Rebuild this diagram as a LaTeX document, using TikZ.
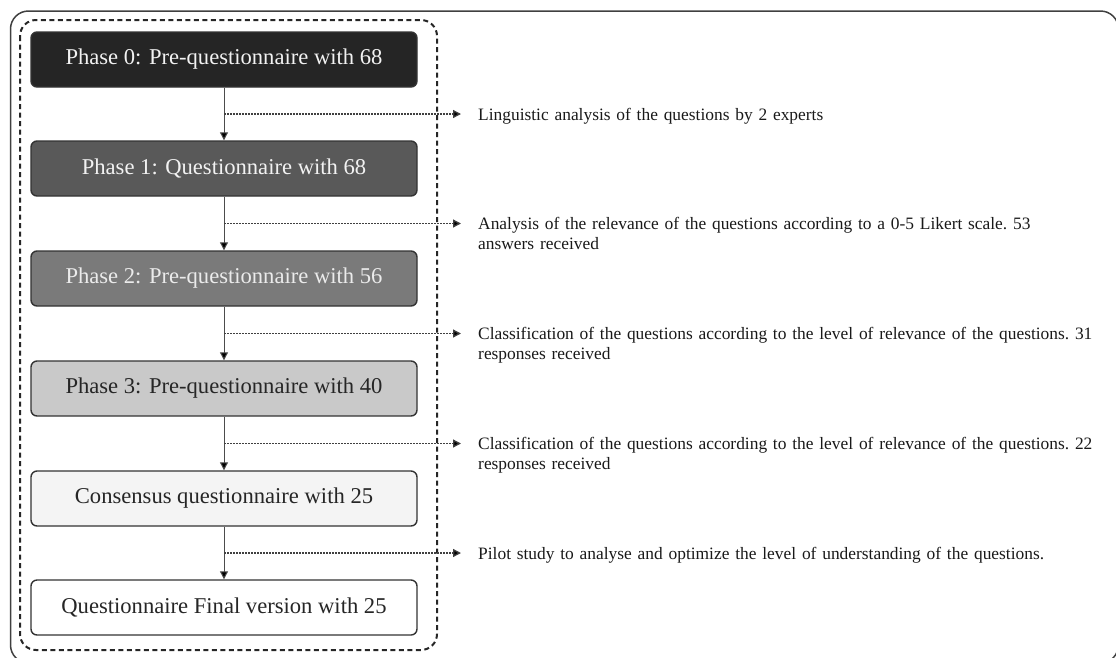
\documentclass[tikz,border=0pt]{standalone}
\usepackage{fontspec}
\setmainfont{Liberation Serif}
\usetikzlibrary{arrows.meta,calc}
\definecolor{fz}{HTML}{252525}
\definecolor{fo}{HTML}{595959}
\definecolor{ft}{HTML}{7A7A7A}
\definecolor{fh}{HTML}{C9C9C9}
\definecolor{fc}{HTML}{F4F4F4}
\definecolor{edge}{HTML}{333333}
\tikzset{
  phasebox/.style={draw=edge, line width=1.4pt, rounded corners=6pt,
    minimum width=386pt, minimum height=55pt, inner sep=0pt,
    font=\fontsize{22.6}{25}\selectfont},
  flowarrow/.style={draw=black!70, line width=1pt, -{Triangle[width=8pt,length=8pt,fill=black]}},
  sidearrow/.style={draw=black!75, line width=1.3pt, dash pattern=on 1.5pt off 1.5pt,
    -{Triangle[width=8pt,length=8pt,fill=black]}},
  note/.style={anchor=base west, align=left, inner sep=0pt, text width=636pt,
    font=\fontsize{17.4}{20}\selectfont\frenchspacing, text=black!90}
}
\begin{document}
\begin{tikzpicture}[x=1pt,y=-1pt]
\useasboundingbox (0,0) rectangle (1116,657);
% outer frame
\draw[black!75, line width=1.5pt, rounded corners=18pt] (10.5,11) rectangle (1118.5,663);
% dashed group
\draw[black!85, line width=2pt, dash pattern=on 5pt off 3.5pt, rounded corners=16pt] (20,20) rectangle (437,650);
% phases
\node[phasebox, fill=fz, text=white!95!black] (p0) at (224,59.5) {Phase 0: Pre-questionnaire with 68};
\node[phasebox, fill=fo, text=white!95!black] (p1) at (224,168.5) {Phase 1: Questionnaire with 68};
\node[phasebox, fill=ft, text=white!92!black] (p2) at (224,278.5) {Phase 2: Pre-questionnaire with 56};
\node[phasebox, fill=fh, text=black!85] (p3) at (224,388.5) {Phase 3: Pre-questionnaire with 40};
\node[phasebox, fill=fc, text=black!85] (p4) at (224,498.5) {Consensus questionnaire with 25};
\node[phasebox, fill=white, text=black!85] (p5) at (224,607.5) {Questionnaire Final version with 25};
% vertical arrows
\foreach \a/\b in {p0/p1,p1/p2,p2/p3,p3/p4,p4/p5}{
  \draw[flowarrow] (\a.south) -- (\b.north);
}
% branch points and notes
\foreach \a/\b/\i in {p0/p1/0,p1/p2/1,p2/p3/2,p3/p4/3,p4/p5/4}{
  \coordinate (s\i) at ($(\a.south)!0.5!(\b.north)$);
  \coordinate (e\i) at ($(s\i)+(237,0)$);
}
\node[note] (n0) at ($(s0)+(254,6)$) {Linguistic analysis of the questions by 2 experts};
\node[note] (n1) at ($(s1)+(254,6)$) {Analysis of the relevance of the questions according to a 0-5 Likert scale. 53\\answers received};
\node[note] (n2) at ($(s2)+(254,6)$) {Classification of the questions according to the level of relevance of the questions. 31\\responses received};
\node[note] (n3) at ($(s3)+(254,6)$) {Classification of the questions according to the level of relevance of the questions. 22\\responses received};
\node[note] (n4) at ($(s4)+(254,6)$) {Pilot study to analyse and optimize the level of understanding of the questions.};
\foreach \i in {0,...,4}{
  \draw[sidearrow] (s\i) -- (e\i);
}
\end{tikzpicture}
\end{document}
